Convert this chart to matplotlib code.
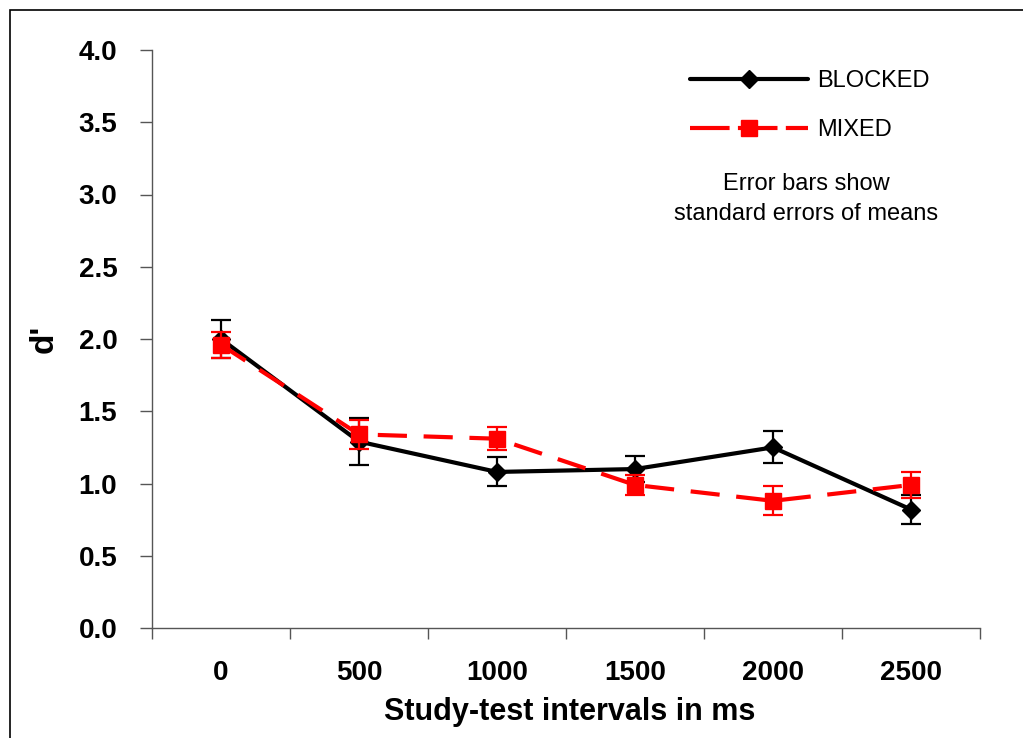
import numpy as np
import matplotlib
matplotlib.use("Agg")
import matplotlib.pyplot as plt
from matplotlib.patches import Rectangle
from matplotlib.lines import Line2D

# --- Data ---
intervals = ["0", "500", "1000", "1500", "2000", "2500"]
blocked_mean = [2.00, 1.29, 1.08, 1.10, 1.25, 0.82]
blocked_se = [0.13, 0.16, 0.10, 0.09, 0.11, 0.10]
mixed_mean = [1.96, 1.34, 1.31, 0.99, 0.88, 0.99]
mixed_se = [0.09, 0.10, 0.08, 0.07, 0.10, 0.09]
yticks = [0.0, 0.5, 1.0, 1.5, 2.0, 2.5, 3.0, 3.5, 4.0]

plt.rcParams["font.family"] = ["Liberation Sans", "DejaVu Sans"]

fig = plt.figure(figsize=(10.23, 7.38), dpi=100)
W, H = 1023, 738
ax = fig.add_axes([152 / W, 1 - 628 / H, (980 - 152) / W, (628 - 50) / H])

x = np.arange(len(intervals))
RED = "#ff0000"

ax.errorbar(x, blocked_mean, yerr=blocked_se, color="black", lw=3,
            marker="D", ms=9, capsize=7, capthick=1.6, elinewidth=1.6,
            zorder=3)
ax.errorbar(x, mixed_mean, yerr=mixed_se, color=RED, lw=3,
            dashes=(7, 4), marker="s", ms=11, capsize=7, capthick=1.6,
            elinewidth=1.6, zorder=4)

ax.set_xlim(-0.5, len(intervals) - 0.5)
ax.set_ylim(0, 4)
ax.set_yticks(yticks)
ax.set_yticklabels([f"{v:.1f}" for v in yticks], fontsize=20, fontweight="bold")
ax.set_xticks(x)
ax.set_xticklabels(intervals, fontsize=20, fontweight="bold")
ax.set_xticks(np.arange(-0.5, len(intervals), 1), minor=True)
ax.tick_params(axis="x", which="major", length=0, pad=23)
ax.tick_params(axis="x", which="minor", length=8, width=1, color="#555555", direction="out")
ax.tick_params(axis="y", length=9, width=1, color="#555555", direction="out", pad=16)

for side in ["top", "right"]:
    ax.spines[side].set_visible(False)
for side in ["left", "bottom"]:
    ax.spines[side].set_color("#555555")
    ax.spines[side].set_linewidth(1)

ax.set_ylabel("d'", fontsize=24, fontweight="bold")
ax.yaxis.set_label_coords(-0.111, 0.5)
ax.set_xlabel("Study-test intervals in ms", fontsize=22, fontweight="bold")
ax.xaxis.set_label_coords(0.504, -0.12)

handles = [
    Line2D([], [], color="black", lw=3, marker="D", ms=9, solid_capstyle="round"),
    Line2D([], [], color=RED, lw=3, dashes=(9.5, 2), marker="s", ms=11),
]
ax.legend(handles, ["BLOCKED", "MIXED"], loc="upper left",
          bbox_to_anchor=(690 / W, 1 - 70 / H), bbox_transform=fig.transFigure,
          frameon=False, fontsize=17, handlelength=5.0, labelspacing=1.15,
          handletextpad=0.4, borderpad=0, borderaxespad=0)

fig.text(806 / W, 1 - 199 / H, "Error bars show\nstandard errors of means",
         ha="center", va="center", fontsize=17, linespacing=1.45)

# outer frame
fig.patches.append(Rectangle((10 / W, -0.5), 1.5, 0.5 + 1 - 10 / H,
                             transform=fig.transFigure, fill=False,
                             edgecolor="black", lw=1.2))

fig.savefig("out.png", dpi=100)
